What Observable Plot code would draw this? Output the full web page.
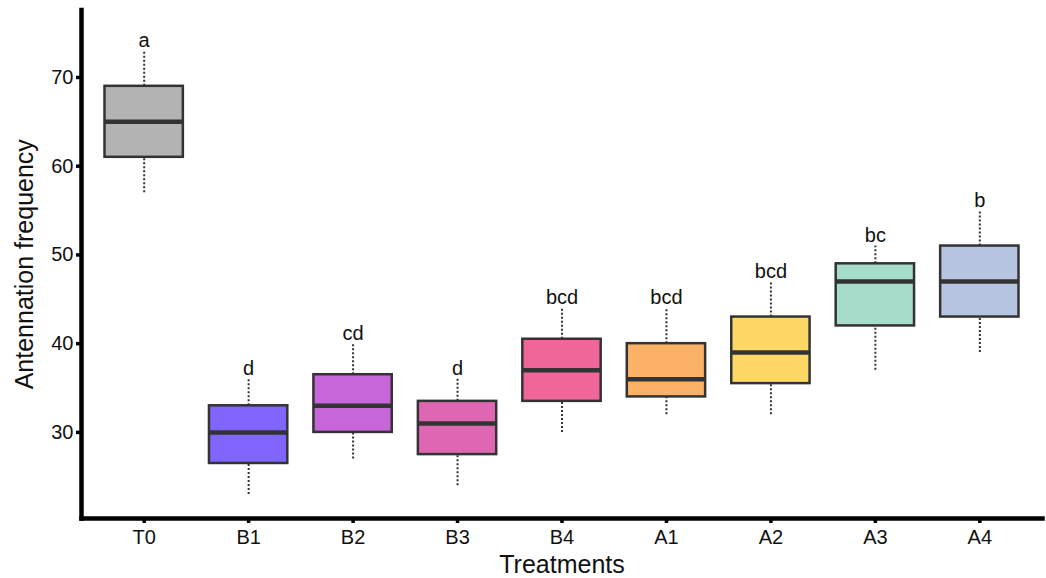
<!DOCTYPE html>
<html>
<head>
<meta charset="utf-8">
<script src="https://cdn.jsdelivr.net/npm/d3@7"></script>
<script src="https://cdn.jsdelivr.net/npm/@observablehq/plot@0.6"></script>
<style>
  html, body { margin: 0; padding: 0; background: #fff; }
  #chart svg { display: block; }
</style>
</head>
<body>
<div id="chart"></div>
<script>
const categories = ["T0", "B1", "B2", "B3", "B4", "A1", "A2", "A3", "A4"];
const mins    = [57, 23, 27, 24, 30, 32, 32, 37, 39];
const q1s     = [61, 26.5, 30, 27.5, 33.5, 34, 35.5, 42, 43];
const medians = [65, 30, 33, 31, 37, 36, 39, 47, 47];
const q3s     = [69, 33, 36.5, 33.5, 40.5, 40, 43, 49, 51];
const maxs    = [73, 36, 40, 36, 44, 44, 47, 51, 55];
const letters = ["a", "d", "cd", "d", "bcd", "bcd", "bcd", "bc", "b"];
const colors  = ["#b3b3b3", "#8066fe", "#c766d8", "#df66b2", "#ef6699", "#fcb266", "#fed866", "#a6dcca", "#b8c5e1"];
const yTicks  = [30, 40, 50, 60, 70];

const data = categories.map((t, i) => ({
  t, min: mins[i], q1: q1s[i], median: medians[i], q3: q3s[i], max: maxs[i], letter: letters[i]
}));

const font = "'Liberation Sans', Arial, Helvetica, sans-serif";

const chart = Plot.plot({
  width: 1046,
  height: 578,
  marginLeft: 81,
  marginRight: 4,
  marginTop: 9.5,
  marginBottom: 60,
  style: { fontFamily: font, fontSize: "20px", color: "#000", background: "#fff" },
  x: { type: "band", domain: categories, paddingInner: 0.25, paddingOuter: 0.225, round: false },
  y: { domain: [20.3, 77.6] },
  color: { domain: categories, range: colors },
  marks: [
    Plot.ruleX(data, { x: "t", y1: "q3", y2: "max", stroke: "#333", strokeWidth: 2, strokeDasharray: "2,2" }),
    Plot.ruleX(data, { x: "t", y1: "min", y2: "q1", stroke: "#333", strokeWidth: 2, strokeDasharray: "2,2" }),
    Plot.barY(data, { x: "t", y1: "q1", y2: "q3", fill: "t", stroke: "#333", strokeWidth: 2.5 }),
    Plot.tickY(data, { x: "t", y: "median", stroke: "#333", strokeWidth: 4.5 }),
    Plot.text(data, { x: "t", y: "max", text: "letter", dy: -4, lineAnchor: "bottom", fontSize: 20, fill: "#111" }),
    Plot.axisY({ ticks: yTicks, tickSize: 5, tickPadding: 3, strokeWidth: 3.5, fontSize: 20, fill: "#111",
                 label: "Antennation frequency", labelAnchor: "center", labelArrow: "none", labelOffset: 66 }),
    Plot.axisX({ tickSize: 5, tickPadding: 6, strokeWidth: 3.5, fontSize: 20, fill: "#111",
                 label: "Treatments", labelAnchor: "center", labelArrow: "none", labelOffset: 54 }),
    Plot.frame({ anchor: "left", stroke: "#000", strokeWidth: 4.5 }),
    Plot.frame({ anchor: "bottom", stroke: "#000", strokeWidth: 4.5 })
  ]
});

// enlarge axis titles
chart.querySelectorAll("g[aria-label='y-axis label'] text, g[aria-label='x-axis label'] text").forEach(t => {
  t.setAttribute("font-size", "25");
  t.style.fontSize = "25px";
});

document.getElementById("chart").appendChild(chart);
</script>
</body>
</html>
